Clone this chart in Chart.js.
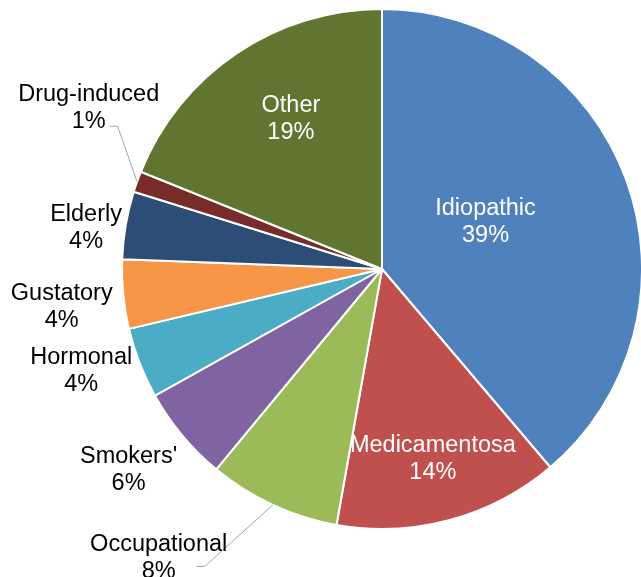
<!DOCTYPE html>
<html>
<head>
  <meta charset="utf-8" />
  <script src="https://cdn.jsdelivr.net/npm/chart.js@4.4.1/dist/chart.umd.min.js"></script>
  <style>
    html, body { margin: 0; padding: 0; background: #fff; }
    canvas { display: block; }
  </style>
</head>
<body>
  <canvas id="chart-pie" width="641" height="577"></canvas>
<script>
  // Data (percent shares)
  var categories = ['Idiopathic', 'Medicamentosa', 'Occupational', "Smokers'", 'Hormonal',
                    'Gustatory', 'Elderly', 'Drug-induced', 'Other'];
  var shares = [38.8, 14.0, 8.2, 5.9, 4.4, 4.3, 4.2, 1.3, 18.9];
  var sliceColors = ['#4F81BD', '#C0504D', '#9BBB59', '#8064A2', '#4BACC6',
                     '#F79646', '#2C4D75', '#772C2A', '#5F7530'];

  // label placement: radius factor, angle offset from slice middle (deg), text colour, leader stub offset
  var labelPlacement = [
    { r: 0.44, da: -5,   color: '#fff' },
    { r: 0.75, da: 0,    color: '#fff' },
    { r: 1.40, da: 13,   color: '#000', leader: [38, 10] },
    { r: 1.24, da: 1.6,  color: '#000' },
    { r: 1.22, da: 2.7,  color: '#000' },
    { r: 1.24, da: -1,   color: '#000' },
    { r: 1.15, da: -1.5, color: '#000' },
    { r: 1.29, da: 9.4,  color: '#000', leader: [21, 20] },
    { r: 0.68, da: 3,    color: '#fff' }
  ];

  var total = shares.reduce(function (a, b) { return a + b; }, 0);

  var pieLabels = {
    id: 'pieLabels',
    afterDatasetsDraw: function (chart) {
      var ctx = chart.ctx;
      var meta = chart.getDatasetMeta(0);
      ctx.save();
      ctx.font = '23.5px "Liberation Sans", Arial, sans-serif';
      ctx.textAlign = 'center';
      ctx.textBaseline = 'middle';
      meta.data.forEach(function (arc, i) {
        var p = labelPlacement[i];
        var R = arc.outerRadius;
        var mid = (arc.startAngle + arc.endAngle) / 2;
        var a = mid + p.da * Math.PI / 180;
        var x = arc.x + Math.cos(a) * R * p.r;
        var y = arc.y + Math.sin(a) * R * p.r;
        var pct = Math.round(shares[i] / total * 100) + '%';

        if (p.leader) {
          var sx = x + p.leader[0], sy = y + p.leader[1];
          ctx.strokeStyle = '#A6A6A6';
          ctx.lineWidth = 1;
          ctx.beginPath();
          ctx.moveTo(sx, sy);
          ctx.lineTo(sx + 8, sy);
          ctx.lineTo(arc.x + Math.cos(mid) * R, arc.y + Math.sin(mid) * R);
          ctx.stroke();
        }

        ctx.fillStyle = p.color;
        ctx.fillText(categories[i], x, y - 12);
        ctx.fillText(pct, x, y + 15);
      });
      ctx.restore();
    }
  };

  var chartPie = new Chart(document.getElementById('chart-pie'), {
    type: 'pie',
    data: {
      labels: categories,
      datasets: [{
        data: shares,
        backgroundColor: sliceColors,
        borderColor: '#ffffff',
        borderWidth: 2,
        radius: 260
      }]
    },
    options: {
      responsive: false,
      animation: false,
      layout: { padding: { left: 123, top: 9, right: -1, bottom: 48 } },
      plugins: {
        legend: { display: false },
        tooltip: { enabled: false }
      }
    },
    plugins: [pieLabels]
  });
</script>
</body>
</html>
